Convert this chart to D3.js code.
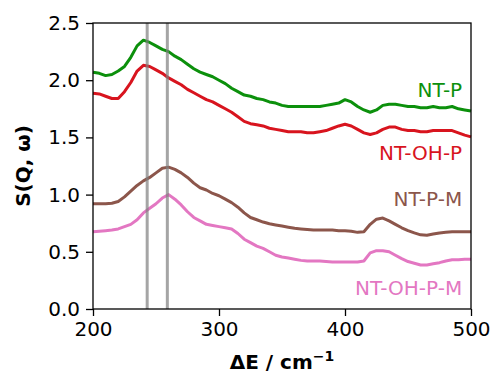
<!DOCTYPE html>
<html><head><meta charset="utf-8">
<script src="https://cdn.jsdelivr.net/npm/d3@7"></script>
<style>body{margin:0;background:#fff}svg{display:block}</style>
</head><body>
<svg id="c" width="492" height="374"></svg>
<script>
const energy = [200,205,210,215,220,225,230,235,240,245,250,255,260,265,270,275,280,285,290,295,300,305,310,315,320,325,330,335,340,345,350,355,360,365,370,375,380,385,390,395,400,405,410,415,420,425,430,435,440,445,450,455,460,465,470,475,480,485,490,495,500];
const ntP = [2.07,2.06,2.04,2.05,2.08,2.12,2.20,2.30,2.35,2.33,2.30,2.27,2.25,2.21,2.18,2.14,2.10,2.07,2.05,2.03,2.00,1.97,1.93,1.90,1.87,1.86,1.84,1.83,1.81,1.80,1.78,1.77,1.77,1.77,1.77,1.77,1.77,1.78,1.79,1.80,1.83,1.81,1.77,1.74,1.72,1.74,1.78,1.79,1.79,1.78,1.77,1.77,1.76,1.76,1.77,1.76,1.76,1.77,1.75,1.74,1.73];
const ntOHP = [1.885,1.88,1.86,1.84,1.84,1.90,1.98,2.08,2.13,2.12,2.09,2.06,2.02,1.99,1.96,1.92,1.89,1.86,1.83,1.81,1.78,1.75,1.72,1.68,1.64,1.62,1.61,1.60,1.58,1.57,1.56,1.55,1.55,1.55,1.54,1.54,1.55,1.56,1.58,1.60,1.615,1.60,1.57,1.54,1.525,1.54,1.57,1.59,1.59,1.57,1.56,1.56,1.55,1.55,1.56,1.56,1.56,1.56,1.54,1.52,1.505];
const ntPM = [0.92,0.92,0.92,0.925,0.94,0.98,1.03,1.08,1.12,1.15,1.19,1.23,1.24,1.22,1.19,1.15,1.10,1.06,1.04,1.01,0.99,0.96,0.93,0.89,0.84,0.80,0.78,0.76,0.745,0.735,0.725,0.715,0.705,0.70,0.695,0.69,0.69,0.69,0.69,0.685,0.685,0.68,0.67,0.675,0.74,0.785,0.795,0.77,0.74,0.71,0.685,0.665,0.648,0.645,0.655,0.665,0.67,0.675,0.675,0.675,0.675];
const ntOHPM = [0.675,0.68,0.685,0.69,0.70,0.72,0.74,0.78,0.84,0.88,0.92,0.97,1.00,0.96,0.91,0.85,0.80,0.77,0.74,0.73,0.72,0.71,0.70,0.66,0.61,0.58,0.55,0.53,0.50,0.47,0.455,0.445,0.435,0.425,0.42,0.42,0.42,0.415,0.41,0.41,0.41,0.41,0.41,0.42,0.49,0.51,0.51,0.50,0.47,0.44,0.415,0.40,0.385,0.385,0.395,0.405,0.42,0.43,0.43,0.435,0.435];
const seriesNames = ["NT-P","NT-OH-P","NT-P-M","NT-OH-P-M"];
const seriesColors = ["#0c900c","#d8141e","#8c564b","#e377c2"];
const labelValues = [1.85, 1.30, 0.90, 0.12];
const markers = [243, 259];
const xTicks = [200,300,400,500];
const yTicks = [0.0,0.5,1.0,1.5,2.0,2.5];

const W = 492, H = 374;
const m = {l:93, r:21, t:23, b:65};
const svg = d3.select("#c");
const x = d3.scaleLinear().domain([200,500]).range([m.l, W-m.r]);
const y = d3.scaleLinear().domain([0,2.5]).range([H-m.b, m.t]);
const font = "DejaVu Sans, sans-serif";

const series = [ntP, ntOHP, ntPM, ntOHPM];
const line = d3.line().x((d,i)=>x(energy[i])).y(d=>y(d));
const g = svg.append("g");
series.forEach((s,k)=>{
  g.append("path").datum(s).attr("d", line).attr("fill","none")
   .attr("stroke", seriesColors[k]).attr("stroke-width", 3).attr("stroke-linejoin","round");
});
markers.forEach(v=>{
  svg.append("line").attr("x1",x(v)).attr("x2",x(v)).attr("y1",y(0)).attr("y2",y(2.5))
    .attr("stroke","#808080").attr("stroke-width",3).attr("opacity",0.7);
});
seriesNames.forEach((n,k)=>{
  svg.append("text").attr("x", x(493)).attr("y", y(labelValues[k])).attr("text-anchor","end")
   .attr("font-family",font).attr("font-size",20).attr("fill",seriesColors[k]).text(n);
});

const xa = svg.append("g").attr("transform",`translate(0,${H-m.b})`)
  .call(d3.axisBottom(x).tickValues(xTicks).tickFormat(d3.format("d")).tickSize(7).tickPadding(6));
const ya = svg.append("g").attr("transform",`translate(${m.l},0)`)
  .call(d3.axisLeft(y).tickValues(yTicks).tickFormat(d3.format(".1f")).tickSize(7).tickPadding(6));
[xa,ya].forEach(a=>{
  a.selectAll("text").attr("font-family",font).attr("font-size",20).attr("fill","#000");
  a.selectAll("line").attr("stroke","#000").attr("stroke-width",1.3);
  a.select(".domain").remove();
});
svg.append("rect").attr("x",m.l).attr("y",m.t).attr("width",W-m.l-m.r).attr("height",H-m.t-m.b)
  .attr("fill","none").attr("stroke","#000").attr("stroke-width",1.3);

svg.append("text").attr("x",(m.l+W-m.r)/2).attr("y",369).attr("text-anchor","middle")
  .attr("font-family",font).attr("font-size",20).attr("font-weight","bold")
  .html('ΔE / cm<tspan dy="-8" font-size="14">−1</tspan>');
svg.append("text").attr("transform",`translate(30,${(m.t+H-m.b)/2}) rotate(-90)`).attr("text-anchor","middle")
  .attr("font-family",font).attr("font-size",20).attr("font-weight","bold").text("S(Q, ω)");
</script>
</body></html>
